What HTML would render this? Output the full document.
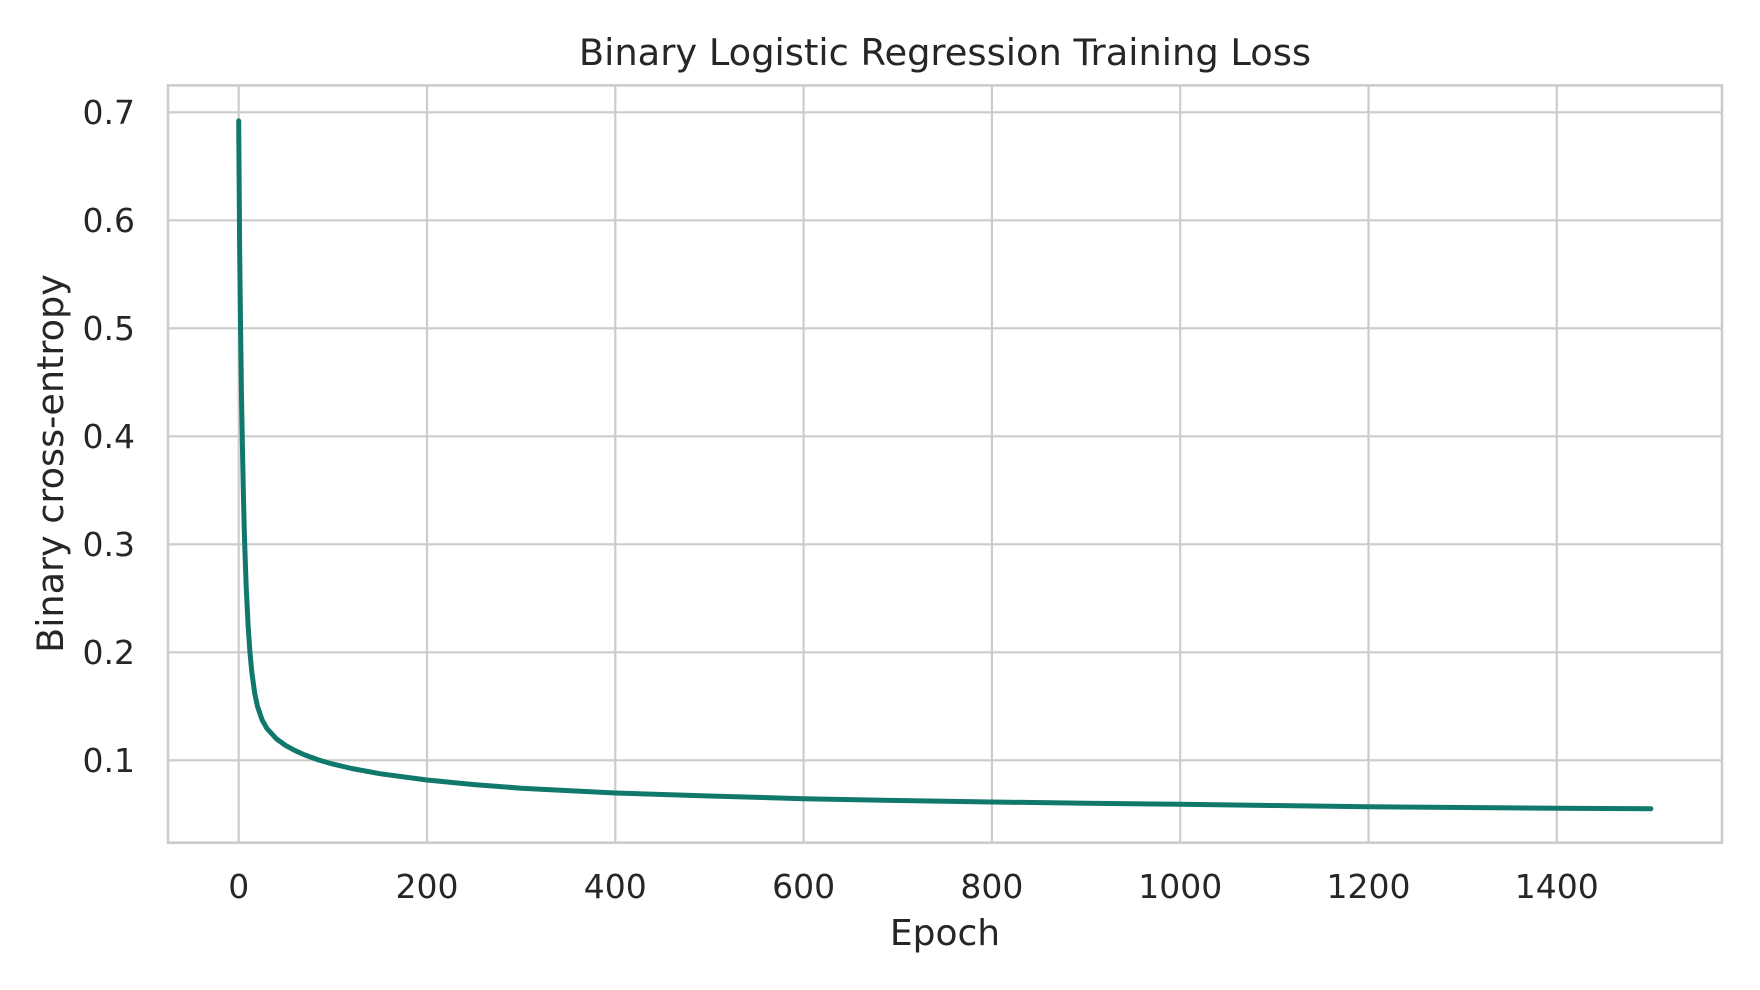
<!DOCTYPE html>
<html><head><meta charset="utf-8"><style>
html,body{margin:0;padding:0;background:#fff;}
svg{display:block;font-family:"DejaVu Sans","Liberation Sans",sans-serif;}
</style></head><body>
<svg width="1760" height="990" viewBox="0 0 1760 990" xmlns="http://www.w3.org/2000/svg">
<rect width="1760" height="990" fill="#fff"/>
<g stroke="#cccccc" stroke-width="2.2" fill="none">
<line x1="238.7" y1="85.4" x2="238.7" y2="842.7"/>
<line x1="427" y1="85.4" x2="427" y2="842.7"/>
<line x1="615.3" y1="85.4" x2="615.3" y2="842.7"/>
<line x1="803.6" y1="85.4" x2="803.6" y2="842.7"/>
<line x1="991.9" y1="85.4" x2="991.9" y2="842.7"/>
<line x1="1180.2" y1="85.4" x2="1180.2" y2="842.7"/>
<line x1="1368.5" y1="85.4" x2="1368.5" y2="842.7"/>
<line x1="1556.8" y1="85.4" x2="1556.8" y2="842.7"/>
<line x1="168" y1="760.3" x2="1722" y2="760.3"/>
<line x1="168" y1="652.3" x2="1722" y2="652.3"/>
<line x1="168" y1="544.3" x2="1722" y2="544.3"/>
<line x1="168" y1="436.3" x2="1722" y2="436.3"/>
<line x1="168" y1="328.3" x2="1722" y2="328.3"/>
<line x1="168" y1="220.3" x2="1722" y2="220.3"/>
<line x1="168" y1="112.3" x2="1722" y2="112.3"/>
<rect x="168" y="85.4" width="1554" height="757.3" stroke-width="2.6"/>
</g>
<polyline fill="none" stroke="#11786c" stroke-width="5" stroke-linecap="round" stroke-linejoin="round" points="238.7,120.9 239.2,189.0 239.6,244.1 240.1,289.6 240.6,329.8 241.5,396.9 242.5,450.8 243.4,494.8 244.3,531.3 245.3,561.5 246.2,586.7 248.1,625.5 250.0,652.9 251.9,672.9 254.7,693.2 257.5,706.5 262.2,720.1 266.9,728.4 276.4,738.8 285.8,745.6 295.2,750.7 304.6,754.9 318.7,760.0 332.9,764.1 351.7,768.5 379.9,773.7 427.0,780.0 474.1,784.6 521.2,788.2 615.3,793.0 709.5,796.0 803.6,798.7 897.8,800.5 991.9,802.0 1086.1,803.2 1180.2,804.3 1274.4,805.5 1368.5,806.7 1462.7,807.5 1556.8,808.2 1650.9,808.7"/>
<g fill="#262626" font-size="33" text-anchor="end">
<text x="135" y="124">0.7</text>
<text x="135" y="232">0.6</text>
<text x="135" y="340">0.5</text>
<text x="135" y="448">0.4</text>
<text x="135" y="556">0.3</text>
<text x="135" y="664">0.2</text>
<text x="135" y="772">0.1</text>
</g>
<g fill="#262626" font-size="33" text-anchor="middle">
<text x="238.7" y="898">0</text>
<text x="427" y="898">200</text>
<text x="615.3" y="898">400</text>
<text x="803.6" y="898">600</text>
<text x="991.9" y="898">800</text>
<text x="1180.2" y="898">1000</text>
<text x="1368.5" y="898">1200</text>
<text x="1556.8" y="898">1400</text>
</g>
<text x="945" y="945" fill="#262626" font-size="36" text-anchor="middle">Epoch</text>
<text x="945" y="65" fill="#262626" font-size="36.8" text-anchor="middle">Binary Logistic Regression Training Loss</text>
<text transform="translate(63,463.5) rotate(-90)" fill="#262626" font-size="36.6" text-anchor="middle">Binary cross-entropy</text>
</svg>
</body></html>
